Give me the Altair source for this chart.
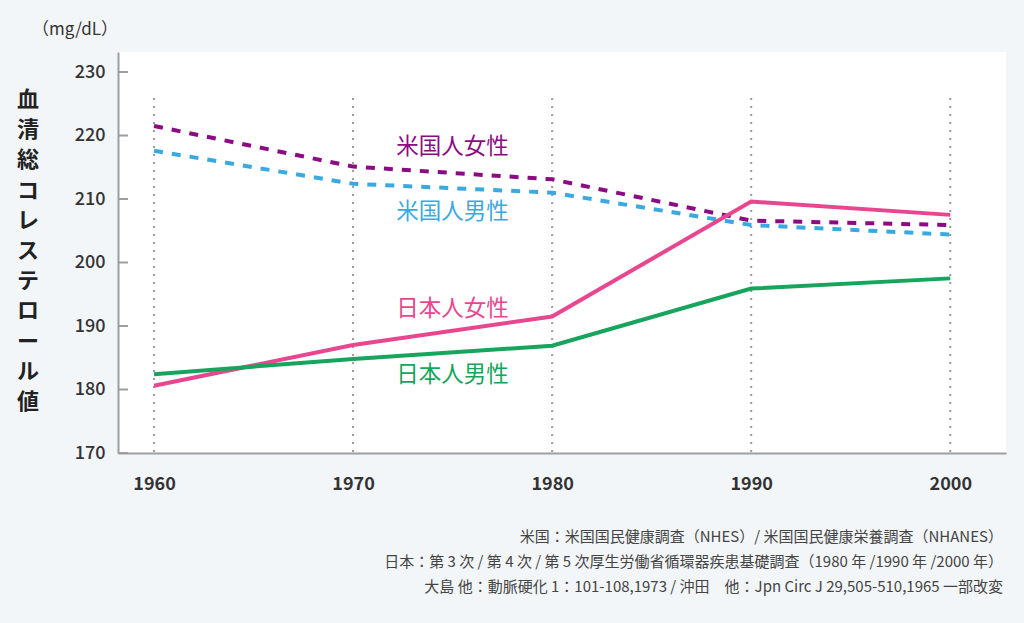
import altair as alt
import pandas as pd

years = [1960, 1970, 1980, 1990, 2000]
us_female = [221.5, 215.1, 213.1, 206.6, 205.9]
us_male = [217.6, 212.4, 211.0, 205.9, 204.4]
jp_female = [180.6, 187.0, 191.5, 209.6, 207.5]
jp_male = [182.4, 184.8, 186.9, 195.9, 197.5]

series_names = ["米国人女性", "米国人男性", "日本人女性", "日本人男性"]
series_colors = ["#8c0b82", "#3aa9e0", "#e8478f", "#17a45d"]
series_dashed = [True, True, False, False]
label_x = [1975.0, 1975.0, 1975.0, 1975.0]
label_y = [218.2, 208.0, 192.7, 182.3]

y_ticks = [170, 180, 190, 200, 210, 220, 230]
y_title = "血清総コレステロール値"
unit = "（mg/dL）"
source_lines = [
    "米国：米国国民健康調査（NHES）/ 米国国民健康栄養調査（NHANES）",
    "日本：第 3 次 / 第 4 次 / 第 5 次厚生労働省循環器疾患基礎調査（1980 年 /1990 年 /2000 年）",
    "大島 他：動脈硬化 1：101-108,1973 / 沖田　他：Jpn Circ J 29,505-510,1965 一部改変",
]

FONT = "Noto Sans CJK JP"
W, H = 888, 401

rows = []
for name, vals in zip(series_names, [us_female, us_male, jp_female, jp_male]):
    for yr, v in zip(years, vals):
        rows.append({"series": name, "year": yr, "value": v})
df = pd.DataFrame(rows)

xs = alt.Scale(domain=[1958.19, 2002.8], nice=False, zero=False)
ys = alt.Scale(domain=[170, 233.15], nice=False, zero=False)

grid_df = pd.DataFrame({"year": years, "top": [225.9] * 5, "bottom": [170] * 5})
grid = alt.Chart(grid_df).mark_rule(color="#9a9a9a", strokeWidth=2, strokeDash=[2, 6]).encode(
    x=alt.X("year:Q", scale=xs, axis=alt.Axis(values=years, format="d", title=None, grid=False,
                                            domainColor="#9e9e9e", domainWidth=2, tickSize=0,
                                            labelPadding=22, labelFontSize=18, labelFontWeight="bold",
                                            labelColor="#333333", labelFont=FONT)),
    y=alt.Y("top:Q", scale=ys, axis=alt.Axis(values=y_ticks, title=None, grid=False,
                                           domainColor="#9e9e9e", domainWidth=2, tickSize=0,
                                           labelPadding=13, labelFontSize=18, labelFontWeight=500,
                                           labelColor="#333333", labelFont=FONT)),
    y2="bottom:Q",
)

tick_df = pd.DataFrame({"v": y_ticks})
yticks = alt.Chart(tick_df).mark_rule(color="#9e9e9e", strokeWidth=2).encode(
    y=alt.Y("v:Q", scale=ys), x=alt.value(0), x2=alt.value(10)
)

layers = [grid, yticks]
for name, color, dashed in zip(series_names, series_colors, series_dashed):
    kw = dict(color=color, strokeWidth=4)
    if dashed:
        kw["strokeDash"] = [9, 9]
    layers.append(
        alt.Chart(df[df.series == name]).mark_line(**kw).encode(
            x=alt.X("year:Q", scale=xs), y=alt.Y("value:Q", scale=ys)
        )
    )

lab_df = pd.DataFrame({"series": series_names, "x": label_x, "y": label_y})
labels = alt.Chart(lab_df).mark_text(font=FONT, fontSize=22.5, fontWeight="normal", align="center",
                                     baseline="middle").encode(
    x=alt.X("x:Q", scale=xs), y=alt.Y("y:Q", scale=ys), text="series:N",
    color=alt.Color("series:N", scale=alt.Scale(domain=series_names, range=series_colors), legend=None),
)
layers.append(labels)

one = pd.DataFrame({"t": [0]})
title_txt = alt.Chart(one).mark_text(
    font=FONT, fontSize=22, fontWeight="bold", color="#222222", align="center", baseline="top",
    lineHeight=30.2, text=list(y_title)
).encode(x=alt.value(-90), y=alt.value(38))
layers.append(title_txt)

unit_txt = alt.Chart(one).mark_text(
    font=FONT, fontSize=17, color="#333333", align="center", baseline="middle", text=unit
).encode(x=alt.value(-43), y=alt.value(-22))
layers.append(unit_txt)

src = alt.Chart(one).mark_text(
    font=FONT, fontSize=15, color="#444444", align="right", baseline="middle",
    lineHeight=25, text=source_lines
).encode(x=alt.value(W - 3), y=alt.value(485))
layers.append(src)

chart = alt.layer(*layers).properties(
    width=W, height=H, background="#f3f6f9",
    padding={"left": 118, "top": 52, "right": 18, "bottom": 170},
    autosize=alt.AutoSizeParams(type="none"),
).configure_view(fill="white", stroke=None)

chart.save("out.html", embed_options={"renderer": "svg", "actions": False})
